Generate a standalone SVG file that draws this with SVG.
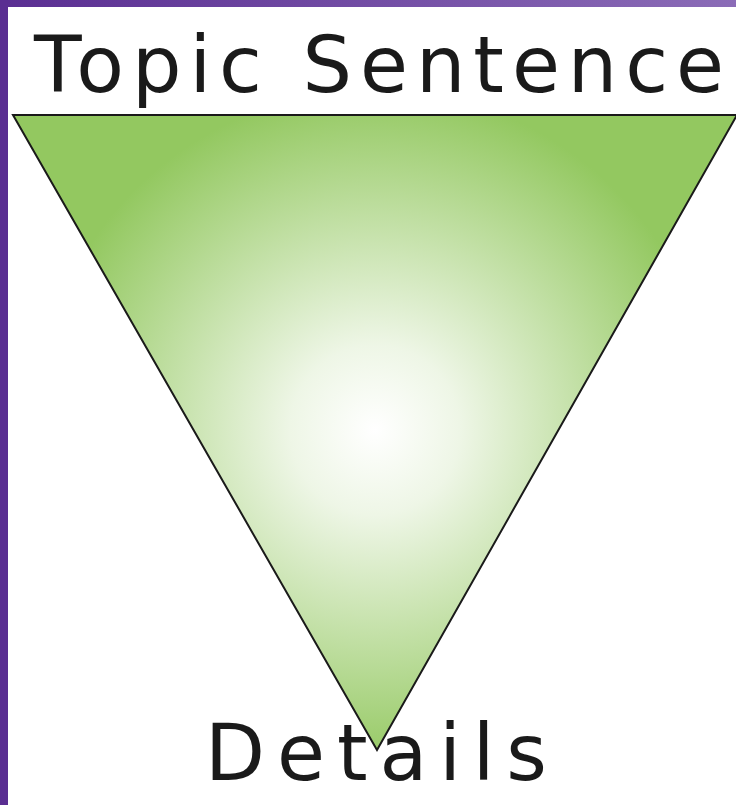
<svg xmlns="http://www.w3.org/2000/svg" width="736" height="805" viewBox="0 0 736 805">
<defs>
<linearGradient id="bar" x1="0" y1="0" x2="1" y2="0">
<stop offset="0" stop-color="#5a2e92"/>
<stop offset="1" stop-color="#8b6cb7"/>
</linearGradient>
<radialGradient id="fill" gradientUnits="userSpaceOnUse" cx="375" cy="430" r="340">
<stop offset="0" stop-color="#ffffff"/>
<stop offset="0.25" stop-color="#eef6e6"/>
<stop offset="1" stop-color="#93c860"/>
</radialGradient>
<style>
.lbl{font-family:"DejaVu Sans","Liberation Sans",sans-serif;font-size:78px;fill:#1a1a1a}
</style>
</defs>
<rect width="736" height="805" fill="#ffffff"/>
<rect x="0" y="0" width="736" height="7" fill="url(#bar)"/>
<rect x="0" y="0" width="8" height="805" fill="#5a2e92"/>
<g id="triangle">
<polygon points="13,115 737,115 377,750" fill="url(#fill)" stroke="#1a1a1a" stroke-width="2" stroke-linejoin="miter"/>
</g>
<g id="topic">
<text class="lbl" x="34" y="92" textLength="690" lengthAdjust="spacing">Topic Sentence</text>
</g>
<g id="details">
<text class="lbl" x="205" y="780" textLength="342" lengthAdjust="spacing">Details</text>
</g>
</svg>
